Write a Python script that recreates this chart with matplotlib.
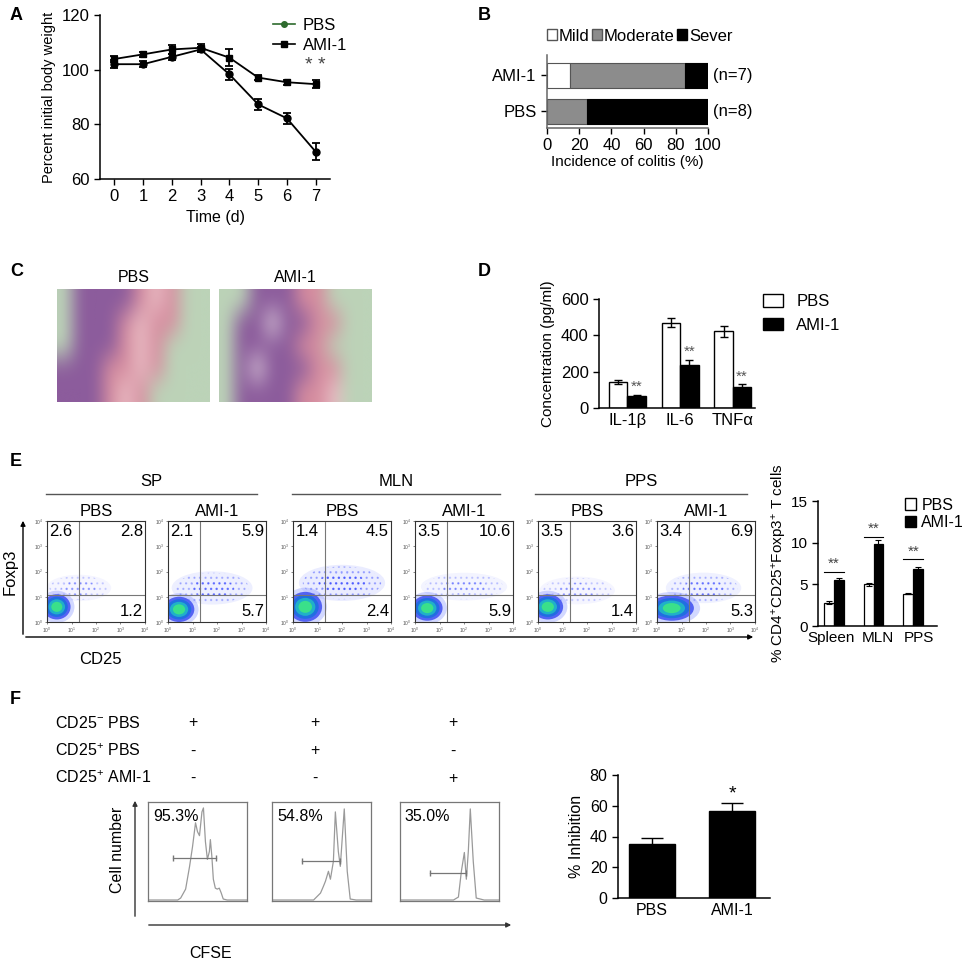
''' multi-panel colitis figure recreated with matplotlib'''
import matplotlib
matplotlib.use('Agg')
import matplotlib.pyplot as plt
from matplotlib.lines import Line2D
from matplotlib.patches import Ellipse, Patch
import numpy as np

plt.rcParams['font.family'] = ['Liberation Sans', 'DejaVu Sans']
plt.rcParams['mathtext.fontset'] = 'custom'
plt.rcParams['mathtext.rm'] = 'Liberation Sans'
plt.rcParams['mathtext.it'] = 'Liberation Sans:italic'
plt.rcParams['hatch.linewidth'] = 0.9

W, H = 965, 964

# ---- panel A: body weight
days = [0, 1, 2, 3, 4, 5, 6, 7]
pbs_weight = [102, 102, 104.7, 107.4, 98.3, 87.3, 82.2, 70.0]
pbs_weight_err = [1.5, 1, 1, 1, 2, 2, 2, 3]
ami_weight = [103.9, 105.6, 107.4, 108, 104.4, 97.1, 95.4, 94.7]
ami_weight_err = [1, 1, 1.5, 1.5, 3, 1, 1, 1.5]

# ---- panel B: incidence of colitis
colitis_groups = ['PBS', 'AMI-1']
colitis_mild = [0, 14.3]
colitis_moderate = [25, 71.4]
colitis_severe = [75, 14.3]
colitis_n = ['(n=8)', '(n=7)']

# ---- panel C: coarse colour maps of the two sections
# G green background, P purple mucosa, K pink muscle, L pale pink, W white
section_pbs = ['GPPPPKLKGG',
               'GPPPKLKKGG',
               'GPPPKLKGGG',
               'PPPKKLKGGG',
               'PPPKLKGGGG']
section_ami = ['GGPPPKKGGG',
               'GPPWPPKKGG',
               'GPPPPKKGGG',
               'GPWPPPKKGG',
               'GPPPPKKLGG']
section_colours = {'G': '#bcd3b8', 'P': '#8c5c9c', 'K': '#d68d9f',
                   'L': '#e8bcc4', 'W': '#d9c8d8'}

# ---- panel D: cytokines
cytokines = ['IL-1β', 'IL-6', 'TNFα']
cyto_pbs = [142, 470, 422]
cyto_pbs_err = [12, 25, 32]
cyto_ami = [67, 236, 115]
cyto_ami_err = [6, 28, 15]

# ---- panel E: flow plots (quadrant percentages)
flow_tissues = ['SP', 'MLN', 'PPS']
flow_groups = ['PBS', 'AMI-1']
flow_ul = [2.6, 2.1, 1.4, 3.5, 3.5, 3.4]
flow_ur = [2.8, 5.9, 4.5, 10.6, 3.6, 6.9]
flow_lr = [1.2, 5.7, 2.4, 5.9, 1.4, 5.3]
# main (double negative) population: centre and size in decades
core_x = [0.40, 0.45, 0.50, 0.50, 0.40, 0.60]
core_y = [0.60, 0.50, 0.60, 0.55, 0.60, 0.55]
core_w = [0.90, 1.00, 1.10, 1.00, 1.00, 1.45]
core_h = [0.80, 0.80, 0.95, 0.80, 0.80, 0.80]
# CD25+ cloud
cloud_x = [1.30, 1.80, 2.00, 2.00, 1.60, 1.90]
cloud_y = [1.35, 1.35, 1.55, 1.40, 1.25, 1.35]
cloud_w = [2.40, 3.00, 3.20, 3.20, 2.80, 2.80]
cloud_h = [0.95, 1.20, 1.30, 1.00, 1.00, 1.10]
cloud_alpha = [0.30, 0.50, 0.60, 0.35, 0.30, 0.45]

# ---- panel E: bar chart
treg_sites = ['Spleen', 'MLN', 'PPS']
treg_pbs = [2.8, 5.0, 3.9]
treg_pbs_err = [0.15, 0.2, 0.1]
treg_ami = [5.5, 9.9, 6.8]
treg_ami_err = [0.3, 0.4, 0.25]
treg_sig = [6.5, 10.7, 8.0]

# ---- panel F: suppression assay
row_labels = ['CD25$^{-}$ PBS', 'CD25$^{+}$ PBS', 'CD25$^{+}$ AMI-1']
row_signs = [['+', '+', '+'], ['-', '+', '-'], ['-', '-', '+']]
hist_pct = ['95.3%', '54.8%', '35.0%']
hist1_x = [0, 0.3, 0.33, 0.38, 0.42, 0.45, 0.48, 0.5, 0.52, 0.545, 0.56,
           0.58, 0.6, 0.62, 0.63, 0.645, 0.66, 0.68, 0.70, 0.72, 0.74,
           0.76, 0.8, 1.0]
hist1_y = [0.01, 0.01, 0.03, 0.12, 0.35, 0.55, 0.79, 0.7, 0.66, 0.9, 0.94,
           0.6, 0.42, 0.5, 0.62, 0.45, 0.22, 0.13, 0.12, 0.13, 0.08,
           0.02, 0.01, 0.01]
hist2_x = [0, 0.42, 0.46, 0.49, 0.52, 0.54, 0.57, 0.59, 0.62, 0.64, 0.67,
           0.69, 0.73, 0.76, 0.79, 0.85, 1.0]
hist2_y = [0.01, 0.01, 0.05, 0.08, 0.15, 0.2, 0.3, 0.22, 0.4, 0.9, 0.5,
           0.35, 0.93, 0.3, 0.02, 0.01, 0.01]
hist3_x = [0, 0.54, 0.59, 0.62, 0.65, 0.67, 0.69, 0.71, 0.74, 0.77, 0.85,
           1.0]
hist3_y = [0.01, 0.01, 0.04, 0.3, 0.49, 0.22, 0.5, 0.93, 0.4, 0.03, 0.01,
           0.01]
gate_x0 = [0.25, 0.30, 0.30]
gate_x1 = [0.69, 0.69, 0.67]
gate_y = [0.43, 0.40, 0.28]
inhib_groups = ['PBS', 'AMI-1']
inhib_vals = [35, 56.5]
inhib_err = [4, 5]


def box(x0, y0, x1, y1):
    ''' pixel box -> figure fraction rect'''
    return [x0 / W, 1 - y1 / H, (x1 - x0) / W, (y1 - y0) / H]


def prism_axes(ax, size=11):
    ax.spines['top'].set_visible(False)
    ax.spines['right'].set_visible(False)
    ax.tick_params(direction='out', length=4, width=1, labelsize=size)
    for s in ('left', 'bottom'):
        ax.spines[s].set_linewidth(1.1)


def main():
    fig = plt.figure(figsize=(W / 100, H / 100), dpi=100)
    ov = fig.add_axes([0, 0, 1, 1])
    ov.set_xlim(0, W)
    ov.set_ylim(H, 0)
    ov.axis('off')

    for lab, x, y in [('A', 10, 16), ('B', 478, 16), ('C', 10, 272),
                      ('D', 478, 272), ('E', 10, 462), ('F', 10, 700)]:
        ov.text(x, y, lab, fontsize=13, fontweight='bold', va='center')

    # ---- A
    ax = fig.add_axes(box(100, 15, 330, 179))
    ax.errorbar(days, pbs_weight, yerr=pbs_weight_err, color='k', marker='o',
                ms=5, lw=1.3, capsize=3, capthick=1.3)
    ax.errorbar(days, ami_weight, yerr=ami_weight_err, color='k', marker='s',
                ms=5, lw=1.3, capsize=3, capthick=1.3)
    ax.text(days[-1], 98.5, '* *', ha='center', va='bottom', fontsize=14,
            color='#444444')
    ax.set_xlim(-0.5, 7.5)
    ax.set_ylim(60, 120)
    ax.set_xticks(days)
    ax.set_yticks([60, 80, 100, 120])
    prism_axes(ax, 12)
    ax.set_xlabel('Time (d)', fontsize=11.5)
    ax.set_ylabel('Percent initial body weight', fontsize=10.5)
    handles = [Line2D([], [], color='#2e6b2e', marker='o', ms=4, lw=1.2),
               Line2D([], [], color='k', marker='s', ms=4, lw=1.2)]
    ax.legend(handles, ['PBS', 'AMI-1'], loc='upper left',
              bbox_to_anchor=(258 / W, 1 - 3 / H),
              bbox_transform=fig.transFigure, frameon=False, fontsize=12,
              handlelength=1.3, handletextpad=0.5, labelspacing=0.3)

    # ---- B
    ax = fig.add_axes(box(547, 55, 708, 128))
    ypos = np.arange(len(colitis_groups))
    left_mod = np.array(colitis_mild)
    left_sev = left_mod + np.array(colitis_moderate)
    ax.barh(ypos, colitis_mild, height=0.7, color='white',
            edgecolor='#555555', lw=0.8)
    ax.barh(ypos, colitis_moderate, left=left_mod, height=0.7,
            color='#8c8c8c', edgecolor='#555555', lw=0.8)
    ax.barh(ypos, colitis_severe, left=left_sev, height=0.7, color='black',
            edgecolor='black', lw=0.8)
    for y, n in zip(ypos, colitis_n):
        ax.text(103, y, n, va='center', fontsize=12, clip_on=False)
    ax.set_ylim(-0.46, 1.57)
    ax.set_xlim(0, 100)
    ax.set_yticks(ypos)
    ax.set_yticklabels(colitis_groups)
    ax.set_xticks(range(0, 101, 20))
    prism_axes(ax, 12)
    ax.spines['left'].set_color('#666666')
    ax.spines['bottom'].set_color('#666666')
    ax.set_xlabel('Incidence of colitis (%)', fontsize=11, labelpad=1)
    lh = [Patch(facecolor='white', edgecolor='#555555'),
          Patch(facecolor='#8c8c8c', edgecolor='#555555'),
          Patch(facecolor='black', edgecolor='black')]
    ax.legend(lh, ['Mild', 'Moderate', 'Sever'], ncol=3, loc='lower left',
              bbox_to_anchor=(-0.06, 1.02), frameon=False, fontsize=12,
              handlelength=0.6, handleheight=0.6, handletextpad=0.1,
              columnspacing=0.15, borderpad=0.1)

    # ---- C
    for sec, x0, x1, title in [(section_pbs, 57, 210, 'PBS'),
                               (section_ami, 219, 372, 'AMI-1')]:
        img = np.array([[matplotlib.colors.to_rgb(section_colours[c])
                         for c in row] for row in sec])
        axc = fig.add_axes(box(x0, 289, x1, 402))
        axc.imshow(img, aspect='auto', interpolation='bicubic')
        axc.axis('off')
        ov.text((x0 + x1) / 2, 278, title, ha='center', va='center',
                fontsize=11.5)

    # ---- D
    ax = fig.add_axes(box(599, 299, 755, 408))
    xg = np.arange(len(cytokines))
    bw = 0.35
    ax.bar(xg - bw / 2, cyto_pbs, bw, yerr=cyto_pbs_err, color='white',
           edgecolor='k', lw=1, capsize=3,
           error_kw=dict(lw=1, capthick=1, ecolor='k'))
    ax.bar(xg + bw / 2, cyto_ami, bw, yerr=cyto_ami_err, color='black',
           edgecolor='k', lw=1, capsize=3,
           error_kw=dict(lw=1, capthick=1, ecolor='k'))
    for x, v, e in zip(xg, cyto_ami, cyto_ami_err):
        ax.text(x + bw / 2, v + e + 5, '**', ha='center', va='bottom',
                fontsize=11, color='#555555')
    ax.set_xlim(-0.54, 2.42)
    ax.set_ylim(0, 600)
    ax.set_yticks([0, 200, 400, 600])
    ax.set_xticks(xg)
    ax.set_xticklabels(cytokines)
    prism_axes(ax, 12)
    ax.tick_params(axis='x', length=0)
    ax.set_ylabel('Concentration (pg/ml)', fontsize=11)
    lh = [Patch(facecolor='white', edgecolor='k'),
          Patch(facecolor='black', edgecolor='k')]
    ax.legend(lh, ['PBS', 'AMI-1'], loc='upper left',
              bbox_to_anchor=(748 / W, 1 - 279 / H),
              bbox_transform=fig.transFigure, frameon=False, fontsize=12,
              handlelength=1.2, handleheight=0.8, labelspacing=0.5)

    # ---- E flow plots
    plot_x = [47, 168, 293, 415, 538, 657]
    for i in range(6):
        x0 = plot_x[i]
        axf = fig.add_axes(box(x0, 521, x0 + 98, 622))
        axf.add_patch(Ellipse((cloud_x[i], cloud_y[i]), cloud_w[i] * 1.1,
                              cloud_h[i] * 1.1, color='#5565ff',
                              alpha=cloud_alpha[i] * 0.2, lw=0))
        for sc, a in [(1.0, 0.6), (0.6, 1.0)]:
            axf.add_patch(Ellipse((cloud_x[i], cloud_y[i]),
                                  cloud_w[i] * sc, cloud_h[i] * sc,
                                  fill=False, hatch='...', lw=0,
                                  edgecolor='#3848ff',
                                  alpha=cloud_alpha[i] * a))
        for sc, col, a in [(1.6, '#8090ff', 0.35), (1.25, '#2a3cf0', 0.75),
                           (1.0, '#1f6fe0', 0.95), (0.75, '#20b0c8', 1.0),
                           (0.5, '#3ae08a', 1.0)]:
            axf.add_patch(Ellipse((core_x[i], core_y[i]), core_w[i] * sc,
                                  core_h[i] * sc, color=col, alpha=a, lw=0))
        axf.axvline(1.3, color='#777777', lw=0.8)
        axf.axhline(1.05, color='#777777', lw=0.8)
        axf.set_xlim(0, 4)
        axf.set_ylim(0, 4)
        dec = ['$10^{%d}$' % k for k in range(5)]
        axf.set_xticks(range(5))
        axf.set_yticks(range(5))
        axf.set_xticklabels(dec)
        axf.set_yticklabels(dec)
        axf.tick_params(labelsize=3.5, length=1.5, width=0.5, pad=1,
                        colors='#555555')
        for s in axf.spines.values():
            s.set_linewidth(0.8)
            s.set_color('#333333')
        axf.text(0.1, 3.9, f'{flow_ul[i]}', ha='left', va='top', fontsize=12)
        axf.text(3.92, 3.9, f'{flow_ur[i]}', ha='right', va='top',
                 fontsize=12)
        axf.text(3.92, 0.12, f'{flow_lr[i]}', ha='right', va='bottom',
                 fontsize=12)
        ov.text(x0 + 49, 512, flow_groups[i % 2], ha='center', va='center',
                fontsize=12)
    for t, tx0, tx1 in zip(flow_tissues, [46, 292, 535], [257, 500, 747]):
        ov.plot([tx0, tx1], [494, 494], color='#555555', lw=1)
        ov.text((tx0 + tx1) / 2, 482, t, ha='center', va='center',
                fontsize=12)
    ov.annotate('', xy=(23, 518), xytext=(23, 637),
                arrowprops=dict(arrowstyle='-|>', color='k', lw=1,
                                mutation_scale=7))
    ov.annotate('', xy=(756, 637), xytext=(23, 637),
                arrowprops=dict(arrowstyle='-|>', color='k', lw=1,
                                mutation_scale=7))
    ov.text(10, 572, 'Foxp3', rotation=90, ha='center', va='center',
            fontsize=12)
    ov.text(100, 660, 'CD25', ha='center', va='center', fontsize=12)

    # ---- E bar chart
    ax = fig.add_axes(box(818, 501, 937, 626))
    xs = np.arange(len(treg_sites))
    bw = 0.25
    ax.bar(xs - bw / 2, treg_pbs, bw, yerr=treg_pbs_err, color='white',
           edgecolor='k', lw=0.9, capsize=2,
           error_kw=dict(lw=0.8, capthick=0.8, ecolor='k'))
    ax.bar(xs + bw / 2, treg_ami, bw, yerr=treg_ami_err, color='black',
           edgecolor='k', lw=0.9, capsize=2,
           error_kw=dict(lw=0.8, capthick=0.8, ecolor='k'))
    for x, s in zip(xs, treg_sig):
        ax.plot([x - bw, x + bw], [s, s], color='k', lw=0.8)
        ax.text(x, s + 0.1, '**', ha='center', va='bottom', fontsize=11,
                color='#444444')
    ax.set_xlim(-0.4, 2.6)
    ax.set_ylim(0, 15)
    ax.set_yticks([0, 5, 10, 15])
    ax.set_xticks(xs)
    ax.set_xticklabels(treg_sites)
    prism_axes(ax, 11)
    ax.tick_params(axis='x', length=0)
    for t, dx in zip(ax.get_xticklabels(), [-3, 4, 6]):
        t.set_transform(t.get_transform() +
                        matplotlib.transforms.ScaledTranslation(
                            dx / 100, 0, fig.dpi_scale_trans))
    ax.set_ylabel('% CD4$^{+}$CD25$^{+}$Foxp3$^{+}$ T cells', fontsize=11,
                  labelpad=1)
    ax.legend(lh, ['PBS', 'AMI-1'], loc='upper left',
              bbox_to_anchor=(903 / W, 1 - 496 / H),
              bbox_transform=fig.transFigure, frameon=False, fontsize=11.5,
              handlelength=0.7, handleheight=0.7, handletextpad=0.35,
              labelspacing=0.15, borderpad=0.1, borderaxespad=0)

    # ---- F
    sign_x = [193, 315, 453]
    row_y = [723, 751, 778]
    for lab, y, signs in zip(row_labels, row_y, row_signs):
        ov.text(55, y, lab, ha='left', va='center', fontsize=11.5)
        for x, s in zip(sign_x, signs):
            ov.text(x, y, s, ha='center', va='center', fontsize=11.5)
    hx = [hist1_x, hist2_x, hist3_x]
    hy = [hist1_y, hist2_y, hist3_y]
    for i, x0 in enumerate([148, 272, 400]):
        axh = fig.add_axes(box(x0, 802, x0 + 99, 901))
        axh.plot(hx[i], hy[i], color='#9a9a9a', lw=0.9)
        axh.plot([gate_x0[i], gate_x1[i]], [gate_y[i], gate_y[i]],
                 color='#777777', lw=0.9, marker='|', ms=5)
        axh.text(0.05, 0.93, hist_pct[i], ha='left', va='top', fontsize=11.5)
        axh.set_xlim(0, 1)
        axh.set_ylim(0, 1)
        axh.set_xticks([])
        axh.set_yticks([])
        for s in axh.spines.values():
            s.set_color('#777777')
            s.set_linewidth(0.9)
    ov.annotate('', xy=(135, 798), xytext=(135, 919),
                arrowprops=dict(arrowstyle='-|>', color='#333333', lw=1,
                                mutation_scale=7))
    ov.annotate('', xy=(514, 925), xytext=(146, 925),
                arrowprops=dict(arrowstyle='-|>', color='#333333', lw=1,
                                mutation_scale=7))
    ov.text(118, 850, 'Cell number', rotation=90, ha='center', va='center',
            fontsize=11.5)
    ov.text(211, 954, 'CFSE', ha='center', va='center', fontsize=11.5)

    ax = fig.add_axes(box(618, 775, 770, 898))
    xi = np.arange(len(inhib_groups))
    ax.bar(xi, inhib_vals, 0.58, yerr=inhib_err, color='black',
           edgecolor='k', capsize=8,
           error_kw=dict(lw=1, capthick=1, ecolor='k'))
    ax.text(xi[1], inhib_vals[1] + inhib_err[1] + 0.5, '*', ha='center',
            va='bottom', fontsize=14)
    ax.set_xlim(-0.425, 1.475)
    ax.set_ylim(0, 80)
    ax.set_yticks(range(0, 81, 20))
    ax.set_xticks(xi)
    ax.set_xticklabels(inhib_groups)
    prism_axes(ax, 11.5)
    ax.tick_params(axis='x', length=0)
    ax.set_ylabel('% Inhibition', fontsize=11.5)

    fig.savefig('out.png', dpi=100)


if __name__ == '__main__':
    main()
